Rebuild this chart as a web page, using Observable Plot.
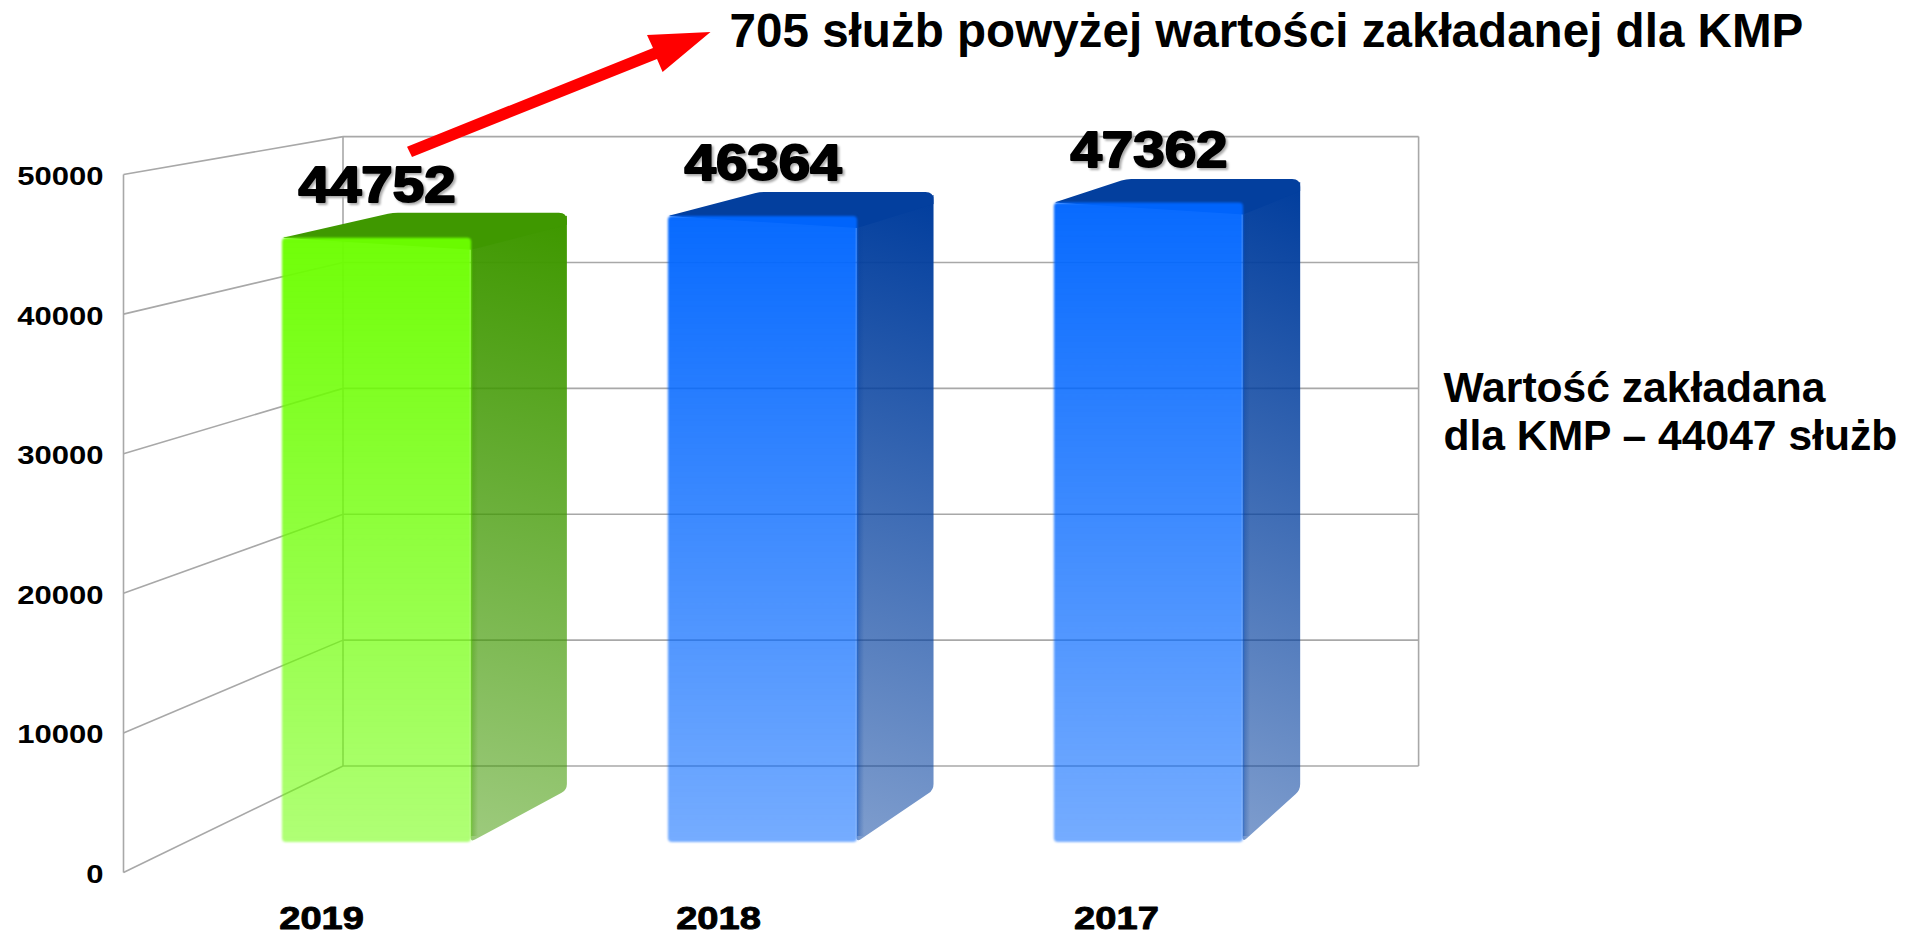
<!DOCTYPE html>
<html><head><meta charset="utf-8">
<script src="https://cdn.jsdelivr.net/npm/d3@7"></script>
<script src="https://cdn.jsdelivr.net/npm/@observablehq/plot@0.6"></script>
<style>html,body{margin:0;padding:0;background:#fff;overflow:hidden}svg{display:block}</style>
</head><body><div id="chart"></div>
<script>
const years = ["2019", "2018", "2017"];
const services = [44752, 46364, 47362];
const yTicks = [0, 10000, 20000, 30000, 40000, 50000];
const yearLabelOffset = [-55.5, -44.5, -32.5];
const headline = "705 służb powyżej wartości zakładanej dla KMP";
const sideNote = "Wartość zakładana\ndla KMP – 44047 służb";
const faceColors = ["#6cff00", "#0066ff", "#0066ff"];
const sideColors = ["#3f9800", "#033f9e", "#033f9e"];

const rows = years.map((year, i) => ({year, value: services[i], i}));

// Perspective planes. The y scale is the plane of the bars' front faces.
const base = 842, fullH = 675;
const wallBase = 872.5, wallH = 698;
const px = v => base - v / 50000 * fullH;              // same as scales.y, for the wall mapping
const wallFrontY = v => wallBase - v / 50000 * wallH;
const toBarValue = screen => (base - screen) / fullH * 50000; // value on the y scale landing at a screen y
const fromBarValue = bv => String(Math.round((wallBase - px(bv)) / wallH * 50000));

const gradient = (defs, id, color, o0, o1, vec) => {
  const g = defs.append("linearGradient").attr("id", id)
    .attr("x1", vec[0]).attr("y1", vec[1]).attr("x2", vec[2]).attr("y2", vec[3]);
  g.append("stop").attr("offset", 0).attr("stop-color", color).attr("stop-opacity", o0);
  g.append("stop").attr("offset", 1).attr("stop-color", color).attr("stop-opacity", o1);
};

function walls(index, scales) {
  const y = scales.y, y0 = y(0), g = d3.create("svg:g");
  const defs = g.append("defs");
  years.forEach((yr, i) => {
    gradient(defs, "face" + yr, faceColors[i], 0.97, 0.54, [0, 0, 0, 1]);
    gradient(defs, "side" + yr, sideColors[i], 1, 0.52, [0.52, 0, 0.48, 1]);
    gradient(defs, "edge" + yr, sideColors[i], 0.4, 0, [0, 0, 1, 0]);
  });
  const frontX = 123.5, backX = 343, rightX = 1418.6;
  const wallBackY = v => 766 + (y(v) - y0) * 629.4 / fullH;
  const frontY = v => wallBase + (y(v) - y0) * wallH / fullH;
  const line = (a, b, c, d) => g.append("line").attr("x1", a).attr("y1", b).attr("x2", c).attr("y2", d)
    .attr("stroke", "#a8a8a8").attr("stroke-width", 1.6);
  for (const v of yTicks) {
    line(frontX, frontY(v), backX, wallBackY(v));
    line(backX, wallBackY(v), rightX, wallBackY(v));
  }
  line(frontX, frontY(0), frontX, frontY(50000));
  line(backX, wallBackY(0), backX, wallBackY(50000));
  line(rightX, wallBackY(0), rightX, wallBackY(50000));
  return g.node();
}

// polygon with per-vertex rounded corners: [x, y, radius]
function roundedPath(pts) {
  const n = pts.length;
  const towards = (a, b, r) => {
    const dx = b[0] - a[0], dy = b[1] - a[1], l = Math.hypot(dx, dy);
    return [a[0] + dx / l * r, a[1] + dy / l * r];
  };
  let d = "";
  pts.forEach((p, i) => {
    const prev = pts[(i + n - 1) % n], next = pts[(i + 1) % n], r = p[2] || 0;
    const a = towards(p, prev, r), b = towards(p, next, r);
    d += (i ? "L" : "M") + a[0] + "," + a[1] + "Q" + p[0] + "," + p[1] + " " + b[0] + "," + b[1];
  });
  return d + "Z";
}

function boxes(index, scales) {
  const {x, y} = scales, y0 = y(0), bw = x.bandwidth(), g = d3.create("svg:g");
  rows.forEach(d => {
    const xl = x(d.year), xr = xl + bw, yt = y(d.value);
    const bxl = 0.95 * xl + 125, bxr = bxl + 0.92 * bw;
    const by = sy => 790 + (sy - y0) * 645 / fullH;
    g.append("path").attr("fill", `url(#side${d.year})`)
      .attr("d", roundedPath([[xr - 0.5, yt + 3], [bxr, by(yt) + 3, 0], [bxr, by(y0), 6], [xr - 0.5, y0, 5]]));
    g.append("path").attr("fill", sideColors[d.i])
      .attr("d", roundedPath([[xl, yt, 3], [bxl, by(yt), 5], [bxr, by(yt), 8], [bxr, by(yt) + 12], [xr, yt + 12]]));
    g.append("rect").attr("fill", `url(#edge${d.year})`)
      .attr("x", xr).attr("y", yt + 12).attr("width", 7).attr("height", y0 - yt - 18);
  });
  return g.node();
}

function arrow() {
  return d3.create("svg:path")
    .attr("d", "M407,146.7L653,48L647,35L710.5,32L662.6,72L657,59L412,157Z")
    .attr("fill", "#ff0000").node();
}

const textStyle = {fontFamily: "Liberation Sans", fontWeight: "bold", fill: "black"};

const plot = Plot.plot({
  width: 1911, height: 932,
  marginLeft: 110, marginTop: 0, marginRight: 0, marginBottom: 0,
  style: {fontFamily: "Liberation Sans", fontWeight: "bold", background: "#fff", overflow: "visible"},
  x: {type: "band", domain: years, range: [282, 1243], paddingInner: 0.51, paddingOuter: 0, round: false, axis: null},
  y: {type: "linear", domain: [0, 50000], range: [base, base - fullH], axis: null},
  color: {domain: years, range: years.map(y => `url(#face${y})`)},
  marks: [
    walls,
    boxes,
    Plot.barY(rows, {x: "year", y: "value", fill: "year", rx: 4, imageFilter: "blur(0.8px)"}),
    arrow,
    Plot.axisY(yTicks.map(v => toBarValue(wallFrontY(v))), {
      anchor: "left", tickSize: 0, tickPadding: 7, fontSize: 26.5, label: null, tickFormat: fromBarValue, dy: 1.5,
      stroke: "black", strokeWidth: 0.9, ...textStyle
    }),
    ...years.map((yr, i) => Plot.text([yr], {
      x: d => d, frameAnchor: "bottom", dx: yearLabelOffset[i], dy: -4, lineAnchor: "bottom",
      fontSize: 32, text: d => d, stroke: "black", strokeWidth: 0.9, ...textStyle
    })),
    Plot.text(rows, {
      x: "year", y: "value", text: d => String(d.value), dy: -36.5, lineAnchor: "bottom", fontSize: 50,
      stroke: "black", strokeWidth: 2, imageFilter: "drop-shadow(2.5px 2.5px 1px #aaa)", ...textStyle
    }),
    Plot.text([headline], {frameAnchor: "top-left", textAnchor: "start", dx: 619, dy: 46, lineAnchor: "bottom", fontSize: 47.6, ...textStyle}),
    Plot.text([sideNote], {frameAnchor: "top-left", textAnchor: "start", dx: 1333, dy: 449.5, lineAnchor: "bottom", fontSize: 42.6, lineHeight: 1.12, ...textStyle})
  ]
});
document.getElementById("chart").append(plot);

// The reference's chart text is wider than its font: stretch it to the same width.
const stretchBySize = {26.5: 1.17, 32: 1.19, 50: 1.13};
plot.querySelectorAll("text").forEach(t => {
  const k = stretchBySize[parseFloat(getComputedStyle(t).fontSize)];
  if (k) {
    t.setAttribute("textLength", t.getComputedTextLength() * k);
    t.setAttribute("lengthAdjust", "spacingAndGlyphs");
  }
});
</script></body></html>
